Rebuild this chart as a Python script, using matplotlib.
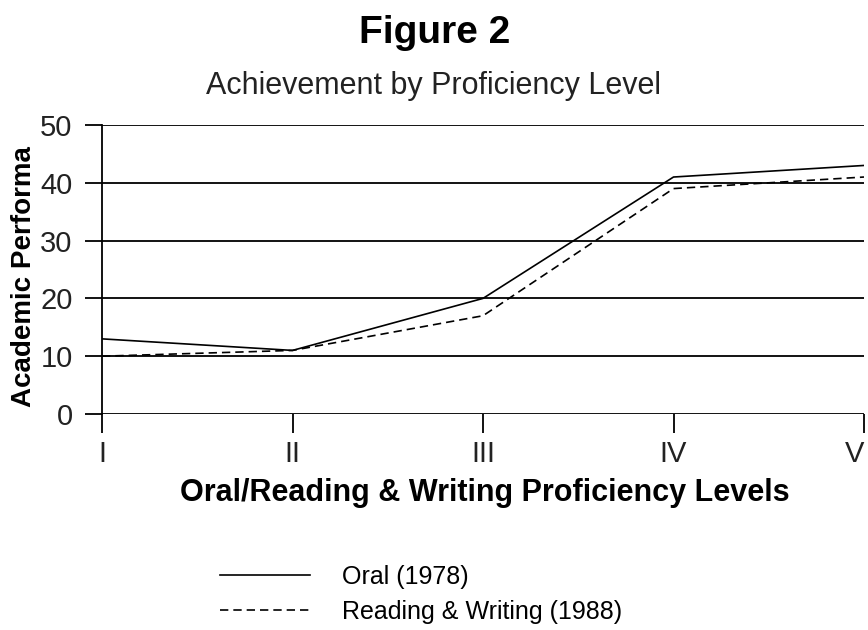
import matplotlib
matplotlib.use("Agg")
import matplotlib.pyplot as plt

levels = ["I", "II", "III", "IV", "V"]
oral_1978 = [13, 11, 20, 41, 43]
reading_writing_1988 = [10, 11, 17, 39, 41]
y_ticks = [0, 10, 20, 30, 40, 50]

plt.rcParams['font.family'] = ['Liberation Sans', 'DejaVu Sans']

W, H = 868, 630
fig = plt.figure(figsize=(W/100, H/100), dpi=100)
ax = fig.add_axes([102/W, 1-414/H, (864-102)/W, (414-125)/H])

x = list(range(len(levels)))
l1, = ax.plot(x, oral_1978, color='black', lw=1.2, label='Oral (1978)')
l2, = ax.plot(x, reading_writing_1988, color='black', lw=1.2, linestyle=(0, (5, 3)),
              label='Reading & Writing (1988)')

ax.set_xlim(0, 4)
ax.set_ylim(0, 50)
ax.set_yticks(y_ticks)
ax.set_xticks(x)
ax.set_xticklabels(levels)
ax.yaxis.grid(True, color='black', lw=1.3)
ax.set_axisbelow(True)
for s in ['top', 'right', 'bottom']:
    ax.spines[s].set_visible(False)
ax.spines['left'].set_linewidth(1.3)
ax.tick_params(axis='y', length=12.2, width=1.3, labelsize=21, pad=9)
ax.tick_params(axis='x', length=14, width=1.3, labelsize=21, pad=5)
for lab in ax.get_yticklabels() + ax.get_xticklabels():
    lab.set_color('#222222')
ax.get_xticklabels()[-1].set_horizontalalignment('right')

ax.set_xlabel('Oral/Reading & Writing Proficiency Levels', fontsize=22, fontweight='bold')
ax.xaxis.set_label_coords(0.503, -0.222)
ax.set_ylabel('Academic Performa', fontsize=20, fontweight='bold')
ax.yaxis.set_label_coords(-0.102, 0.476)
ax.yaxis.label.set_verticalalignment('center')

fig.text(435/W, 1-43/H, 'Figure 2', fontsize=28, fontweight='bold', ha='center', va='baseline')
fig.text(434/W, 1-94/H, 'Achievement by Proficiency Level', fontsize=22, ha='center', va='baseline',
         color='#222222')

fig.legend(handles=[l1, l2], loc='upper left', bbox_to_anchor=(220/W, 1-565/H),
           frameon=False, fontsize=18, handlelength=3.6, handletextpad=1.3, labelspacing=0.42,
           borderpad=0, borderaxespad=0)

fig.savefig('out.png', dpi=100)
